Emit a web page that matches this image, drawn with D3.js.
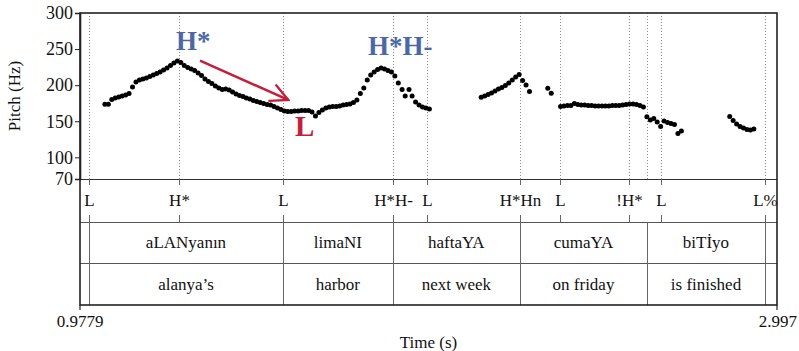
<!DOCTYPE html>
<html>
<head>
<meta charset="utf-8">
<script src="https://cdn.jsdelivr.net/npm/d3@7/dist/d3.min.js"></script>
<style>
  body { margin: 0; background: #fff; }
  svg { display: block; font-family: "Liberation Serif", "Times New Roman", serif; }
</style>
</head>
<body>
<svg id="chart" width="799" height="351"></svg>
<script>
// time range of the excerpt (s) and pitch range (Hz)
const timeRange = [0.9779, 2.997];
const pitchRange = [70, 300];
const pitchTicks = [70, 100, 150, 200, 250, 300];

// pitch track, [time (s), f0 (Hz)]
const pitch = [
  [1.05, 173.5], [1.06, 173.5], [1.07, 180.1], [1.08, 182.2], [1.09, 183.6], [1.10, 185.0],
  [1.11, 186.4], [1.12, 188.4], [1.13, 197.5], [1.14, 204.4], [1.15, 207.2], [1.16, 208.6],
  [1.17, 209.9], [1.18, 212.0], [1.19, 214.1], [1.20, 216.2], [1.21, 218.3], [1.22, 221.0],
  [1.23, 223.8], [1.24, 227.3], [1.25, 230.7], [1.26, 233.5], [1.27, 231.4], [1.28, 227.3],
  [1.29, 224.5], [1.30, 222.4], [1.31, 220.3], [1.32, 216.9], [1.33, 213.4], [1.34, 208.6],
  [1.35, 205.1], [1.36, 202.3], [1.37, 198.9], [1.38, 196.1], [1.39, 194.0], [1.40, 194.7],
  [1.41, 193.3], [1.42, 190.5], [1.43, 187.8], [1.44, 185.7], [1.45, 184.3], [1.46, 182.2],
  [1.47, 180.8], [1.48, 178.8], [1.49, 177.4], [1.50, 176.0], [1.51, 174.6], [1.52, 173.2],
  [1.53, 172.5], [1.54, 170.5], [1.55, 168.4], [1.56, 166.3], [1.57, 164.2], [1.58, 163.5],
  [1.59, 163.5], [1.60, 164.2], [1.61, 164.2], [1.62, 164.9], [1.63, 164.9], [1.64, 164.9],
  [1.65, 162.8], [1.66, 157.3], [1.67, 162.2], [1.68, 165.6], [1.69, 168.4], [1.70, 169.8],
  [1.71, 170.5], [1.72, 170.5], [1.73, 171.1], [1.74, 172.5], [1.75, 173.2], [1.76, 173.9],
  [1.77, 176.0], [1.78, 179.5], [1.79, 188.5], [1.80, 196.1], [1.81, 207.2], [1.82, 214.1],
  [1.83, 218.3], [1.84, 221.7], [1.85, 223.8], [1.86, 222.4], [1.87, 220.3], [1.88, 218.3],
  [1.89, 212.7], [1.90, 203.0], [1.911, 194.0], [1.92, 185.0], [1.931, 194.0], [1.94, 185.0],
  [1.95, 176.7], [1.96, 172.5], [1.97, 169.8], [1.98, 168.4], [1.99, 167.0],
  [2.14, 183.1], [2.15, 185.0], [2.16, 187.1], [2.17, 189.2], [2.18, 191.9], [2.19, 194.7],
  [2.20, 196.8], [2.21, 199.5], [2.22, 203.0], [2.23, 207.2], [2.24, 211.3], [2.25, 214.8],
  [2.26, 206.5], [2.27, 200.2], [2.28, 191.2], [2.333, 195.7], [2.343, 188.7],
  [2.37, 170.5], [2.38, 171.1], [2.39, 171.8], [2.40, 171.8], [2.41, 174.6], [2.42, 173.2],
  [2.43, 172.5], [2.44, 172.5], [2.45, 171.8], [2.46, 171.8], [2.47, 171.1], [2.48, 171.1],
  [2.49, 171.1], [2.50, 171.1], [2.51, 171.1], [2.52, 171.8], [2.53, 171.8], [2.54, 171.8],
  [2.55, 172.5], [2.56, 173.2], [2.57, 173.9], [2.58, 173.9], [2.59, 173.2], [2.60, 171.8],
  [2.61, 169.8], [2.62, 156.3], [2.63, 151.7], [2.64, 153.8], [2.65, 149.0], [2.66, 142.8],
  [2.67, 150.4], [2.68, 148.3], [2.69, 146.9], [2.70, 145.5], [2.71, 133.0], [2.72, 136.5],
  [2.86, 156.6], [2.87, 151.1], [2.88, 146.2], [2.89, 142.8], [2.90, 140.7], [2.91, 138.6],
  [2.92, 137.9], [2.93, 139.3]
];

// tone tier (points)
const toneTimes = [1.0040, 1.2647, 1.5659, 1.8837, 1.9822, 2.2525, 2.3684, 2.5691, 2.6609, 2.9622];
const toneLabels = ['L', 'H*', 'L', 'H*H-', 'L', 'H*Hn', 'L', '!H*', 'L', 'L%'];

// word and gloss tiers (intervals share boundaries)
const wordBounds = [1.0040, 1.5659, 1.8837, 2.2525, 2.6204, 2.9622];
const words = ['aLANyanın', 'limaNI', 'haftaYA', 'cumaYA', 'biTİyo'];
const glosses = ['alanya’s', 'harbor', 'next week', 'on friday', 'is finished'];

// annotations drawn over the pitch track: [label, time, Hz]
const accentNotes = [['H*', 1.256, 248.7], ['H*H-', 1.812, 241.8]];
const lowNote = ['L', 1.601, 129.6];
const arrowFrom = [1.3255, 233.9];
const arrowTo = [1.5813, 179.5];

const padL = 80, padR = 777, padT = 13;
const pitchBottom = 179, toneBottom = 222, wordBottom = 263, glossBottom = 305;
const blue = '#4c67a6', red = '#c41e3a';

const svg = d3.select('#chart');

const x = d3.scaleLinear().domain(timeRange).range([padL, padR]);
const y = d3.scaleLinear().domain(pitchRange).range([pitchBottom, padT]);

// dotted lines for every tier mark
const marks = Array.from(new Set(toneTimes.concat(wordBounds))).sort();
svg.append('g')
  .attr('stroke', '#888')
  .attr('stroke-width', 1)
  .attr('stroke-dasharray', '1,2')
  .selectAll('line')
  .data(marks)
  .join('line')
  .attr('x1', d => Math.round(x(d)) + 0.5)
  .attr('x2', d => Math.round(x(d)) + 0.5)
  .attr('y1', padT)
  .attr('y2', pitchBottom);

// tier separators
svg.append('g')
  .attr('stroke', '#555')
  .attr('stroke-width', 1)
  .selectAll('line')
  .data([toneBottom, wordBottom])
  .join('line')
  .attr('x1', padL).attr('x2', padR)
  .attr('y1', d => d + 0.5).attr('y2', d => d + 0.5);

svg.append('line')
  .attr('x1', padL).attr('x2', padR)
  .attr('y1', pitchBottom + 0.5).attr('y2', pitchBottom + 0.5)
  .attr('stroke', '#333').attr('stroke-width', 1.2);

// interval boundaries in the word and gloss tiers
svg.append('g')
  .attr('stroke', '#666')
  .attr('stroke-width', 1)
  .selectAll('line')
  .data(wordBounds)
  .join('line')
  .attr('x1', d => Math.round(x(d)) + 0.5)
  .attr('x2', d => Math.round(x(d)) + 0.5)
  .attr('y1', toneBottom)
  .attr('y2', glossBottom);

// tone tier ticks + labels
const tone = svg.append('g').selectAll('g')
  .data(toneTimes)
  .join('g')
  .attr('transform', d => `translate(${Math.round(x(d)) + 0.5},0)`);
tone.append('line')
  .attr('y1', pitchBottom).attr('y2', pitchBottom + 6)
  .attr('stroke', '#666');
tone.append('line')
  .attr('y1', toneBottom - 7).attr('y2', toneBottom)
  .attr('stroke', '#666');
tone.append('text')
  .attr('y', 206)
  .attr('text-anchor', 'middle')
  .attr('font-size', 17)
  .attr('fill', '#111')
  .text((d, i) => toneLabels[i]);

function tierText(labels, baseline) {
  svg.append('g').selectAll('text')
    .data(labels)
    .join('text')
    .attr('x', (d, i) => (x(wordBounds[i]) + x(wordBounds[i + 1])) / 2)
    .attr('y', baseline)
    .attr('text-anchor', 'middle')
    .attr('font-size', 17)
    .attr('fill', '#111')
    .text(d => d);
}
tierText(words, 248);
tierText(glosses, 290);

// outer frame
svg.append('rect')
  .attr('x', padL).attr('y', padT)
  .attr('width', padR - padL).attr('height', glossBottom - padT)
  .attr('fill', 'none')
  .attr('stroke', '#222')
  .attr('stroke-width', 1.6);

// y axis
const yAxis = svg.append('g')
  .attr('transform', `translate(${padL},0)`)
  .call(d3.axisLeft(y).tickValues(pitchTicks).tickSize(5).tickPadding(2));
yAxis.select('.domain').attr('stroke', '#222').attr('stroke-width', 1.6);
yAxis.selectAll('.tick line').attr('stroke', '#222');
yAxis.selectAll('.tick text')
  .attr('font-family', '"Liberation Serif", "Times New Roman", serif')
  .attr('font-size', 18)
  .attr('fill', '#111');

svg.append('text')
  .attr('transform', `translate(20,${(padT + pitchBottom) / 2}) rotate(-90)`)
  .attr('text-anchor', 'middle')
  .attr('font-size', 17)
  .attr('fill', '#111')
  .text('Pitch (Hz)');

// time axis: only the edges are labelled
svg.append('g').attr('stroke', '#222').attr('stroke-width', 1.2)
  .selectAll('line')
  .data(timeRange)
  .join('line')
  .attr('x1', d => x(d)).attr('x2', d => x(d))
  .attr('y1', glossBottom).attr('y2', glossBottom + 5);
svg.append('text')
  .attr('x', x(timeRange[0])).attr('y', 327)
  .attr('text-anchor', 'middle')
  .attr('font-size', 17).attr('fill', '#111')
  .text(timeRange[0]);
svg.append('text')
  .attr('x', 797).attr('y', 327)
  .attr('text-anchor', 'end')
  .attr('font-size', 17).attr('fill', '#111')
  .text(timeRange[1]);
svg.append('text')
  .attr('x', (padL + padR) / 2).attr('y', 348)
  .attr('text-anchor', 'middle')
  .attr('font-size', 17).attr('fill', '#111')
  .text('Time (s)');

// pitch dots
svg.append('g')
  .selectAll('circle')
  .data(pitch)
  .join('circle')
  .attr('cx', d => x(d[0]))
  .attr('cy', d => y(d[1]))
  .attr('r', 2.5)
  .attr('fill', '#000');

// annotations
svg.append('g').selectAll('text')
  .data(accentNotes)
  .join('text')
  .attr('x', d => x(d[1]))
  .attr('y', d => y(d[2]))
  .attr('font-size', 27)
  .attr('font-weight', 'bold')
  .attr('fill', blue)
  .text(d => d[0]);

svg.append('text')
  .attr('x', x(lowNote[1]))
  .attr('y', y(lowNote[2]))
  .attr('font-size', 29)
  .attr('font-weight', 'bold')
  .attr('fill', red)
  .text(lowNote[0]);

svg.append('defs').append('marker')
  .attr('id', 'head')
  .attr('viewBox', '0 0 10 10')
  .attr('refX', 9).attr('refY', 5)
  .attr('markerWidth', 8.5).attr('markerHeight', 8.5)
  .attr('orient', 'auto')
  .append('path')
  .attr('d', 'M1,1 L9,5 L1,9')
  .attr('fill', 'none')
  .attr('stroke', red)
  .attr('stroke-width', 1.1)
  .attr('stroke-linecap', 'round');

svg.append('line')
  .attr('x1', x(arrowFrom[0])).attr('y1', y(arrowFrom[1]))
  .attr('x2', x(arrowTo[0])).attr('y2', y(arrowTo[1]))
  .attr('stroke', red)
  .attr('stroke-width', 2.5)
  .attr('marker-end', 'url(#head)');
</script>
</body>
</html>
